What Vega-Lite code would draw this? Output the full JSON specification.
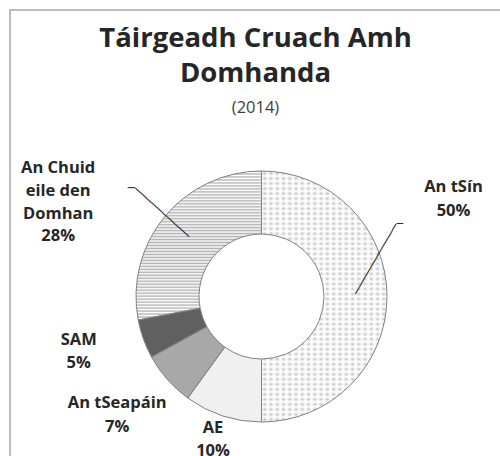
{
  "$schema": "https://vega.github.io/schema/vega-lite/v6.json",
  "width": 503,
  "height": 573,
  "autosize": {"type": "none"},
  "padding": {"left": 10, "top": 10, "right": -13, "bottom": -127},
  "background": "white",
  "config": {"view": {"stroke": null}},
  "title": {
    "text": ["Táirgeadh Cruach Amh", "Domhanda"],
    "subtitle": "(2014)",
    "font": "Open Sans",
    "fontSize": 27.5,
    "fontWeight": "bold",
    "color": "#262626",
    "lineHeight": 35,
    "subtitleFont": "Open Sans",
    "subtitleFontSize": 16.5,
    "subtitleColor": "#404040",
    "subtitlePadding": 12.5,
    "anchor": "middle",
    "dx": -6,
    "offset": -107.5
  },
  "data": {
    "values": [
      {"country": "An tSín", "value": 50, "rank": 1},
      {"country": "AE", "value": 10, "rank": 2},
      {"country": "An tSeapáin", "value": 7, "rank": 3},
      {"country": "SAM", "value": 5, "rank": 4},
      {"country": "An Chuid eile den Domhan", "value": 28, "rank": 5}
    ]
  },
  "transform": [
    {"calculate": "datum.country === 'An Chuid eile den Domhan' ? 'An Chuid\\neile den\\nDomhan\\n' + datum.value + '%' : datum.country + '\\n' + datum.value + '%'", "as": "label"}
  ],
  "layer": [
    {
      "data": {"values": [{"frame": 1}]},
      "mark": {"type": "rect", "fill": "white", "fillOpacity": 0, "stroke": "#a6a6a6", "strokeWidth": 1.5},
      "encoding": {}
    },
    {
      "mark": {"type": "arc", "outerRadius": 125.5, "innerRadius": 62.5, "strokeWidth": 0},
      "encoding": {
        "theta": {"field": "value", "type": "quantitative", "stack": true},
        "order": {"field": "rank", "type": "quantitative", "sort": "ascending"},
        "fill": {
          "condition": [
            {"test": "datum.country === 'An tSín'", "value": {"gradient": "linear", "x1": 0, "y1": 0, "x2": 1, "y2": 0, "stops": [
              {"offset": 0, "color": "#ffffff"}, {"offset": 0.025, "color": "#c0c0c0"}, {"offset": 0.05, "color": "#ffffff"}, {"offset": 0.075, "color": "#c0c0c0"},
              {"offset": 0.1, "color": "#ffffff"}, {"offset": 0.125, "color": "#c0c0c0"}, {"offset": 0.15, "color": "#ffffff"}, {"offset": 0.175, "color": "#c0c0c0"},
              {"offset": 0.2, "color": "#ffffff"}, {"offset": 0.225, "color": "#c0c0c0"}, {"offset": 0.25, "color": "#ffffff"}, {"offset": 0.275, "color": "#c0c0c0"},
              {"offset": 0.3, "color": "#ffffff"}, {"offset": 0.325, "color": "#c0c0c0"}, {"offset": 0.35, "color": "#ffffff"}, {"offset": 0.375, "color": "#c0c0c0"},
              {"offset": 0.4, "color": "#ffffff"}, {"offset": 0.425, "color": "#c0c0c0"}, {"offset": 0.45, "color": "#ffffff"}, {"offset": 0.475, "color": "#c0c0c0"},
              {"offset": 0.5, "color": "#ffffff"}, {"offset": 0.525, "color": "#c0c0c0"}, {"offset": 0.55, "color": "#ffffff"}, {"offset": 0.575, "color": "#c0c0c0"},
              {"offset": 0.6, "color": "#ffffff"}, {"offset": 0.625, "color": "#c0c0c0"}, {"offset": 0.65, "color": "#ffffff"}, {"offset": 0.675, "color": "#c0c0c0"},
              {"offset": 0.7, "color": "#ffffff"}, {"offset": 0.725, "color": "#c0c0c0"}, {"offset": 0.75, "color": "#ffffff"}, {"offset": 0.775, "color": "#c0c0c0"},
              {"offset": 0.8, "color": "#ffffff"}, {"offset": 0.825, "color": "#c0c0c0"}, {"offset": 0.85, "color": "#ffffff"}, {"offset": 0.875, "color": "#c0c0c0"},
              {"offset": 0.9, "color": "#ffffff"}, {"offset": 0.925, "color": "#c0c0c0"}, {"offset": 0.95, "color": "#ffffff"}, {"offset": 0.975, "color": "#c0c0c0"},
              {"offset": 1, "color": "#ffffff"}
            ]}},
            {"test": "datum.country === 'AE'", "value": "#f0f0f0"},
            {"test": "datum.country === 'An tSeapáin'", "value": "#a8a8a8"},
            {"test": "datum.country === 'SAM'", "value": "#606060"}
          ],
          "value": {"gradient": "linear", "x1": 0, "y1": 0, "x2": 0, "y2": 1, "stops": [
            {"offset": 0, "color": "#b3b3b3"}, {"offset": 0.01, "color": "#ffffff"}, {"offset": 0.02, "color": "#b3b3b3"}, {"offset": 0.03, "color": "#ffffff"}, {"offset": 0.04, "color": "#b3b3b3"}, {"offset": 0.05, "color": "#ffffff"}, {"offset": 0.06, "color": "#b3b3b3"}, {"offset": 0.07, "color": "#ffffff"}, {"offset": 0.08, "color": "#b3b3b3"}, {"offset": 0.09, "color": "#ffffff"},
            {"offset": 0.1, "color": "#b3b3b3"}, {"offset": 0.11, "color": "#ffffff"}, {"offset": 0.12, "color": "#b3b3b3"}, {"offset": 0.13, "color": "#ffffff"}, {"offset": 0.14, "color": "#b3b3b3"}, {"offset": 0.15, "color": "#ffffff"}, {"offset": 0.16, "color": "#b3b3b3"}, {"offset": 0.17, "color": "#ffffff"}, {"offset": 0.18, "color": "#b3b3b3"}, {"offset": 0.19, "color": "#ffffff"},
            {"offset": 0.2, "color": "#b3b3b3"}, {"offset": 0.21, "color": "#ffffff"}, {"offset": 0.22, "color": "#b3b3b3"}, {"offset": 0.23, "color": "#ffffff"}, {"offset": 0.24, "color": "#b3b3b3"}, {"offset": 0.25, "color": "#ffffff"}, {"offset": 0.26, "color": "#b3b3b3"}, {"offset": 0.27, "color": "#ffffff"}, {"offset": 0.28, "color": "#b3b3b3"}, {"offset": 0.29, "color": "#ffffff"},
            {"offset": 0.3, "color": "#b3b3b3"}, {"offset": 0.31, "color": "#ffffff"}, {"offset": 0.32, "color": "#b3b3b3"}, {"offset": 0.33, "color": "#ffffff"}, {"offset": 0.34, "color": "#b3b3b3"}, {"offset": 0.35, "color": "#ffffff"}, {"offset": 0.36, "color": "#b3b3b3"}, {"offset": 0.37, "color": "#ffffff"}, {"offset": 0.38, "color": "#b3b3b3"}, {"offset": 0.39, "color": "#ffffff"},
            {"offset": 0.4, "color": "#b3b3b3"}, {"offset": 0.41, "color": "#ffffff"}, {"offset": 0.42, "color": "#b3b3b3"}, {"offset": 0.43, "color": "#ffffff"}, {"offset": 0.44, "color": "#b3b3b3"}, {"offset": 0.45, "color": "#ffffff"}, {"offset": 0.46, "color": "#b3b3b3"}, {"offset": 0.47, "color": "#ffffff"}, {"offset": 0.48, "color": "#b3b3b3"}, {"offset": 0.49, "color": "#ffffff"},
            {"offset": 0.5, "color": "#b3b3b3"}, {"offset": 0.51, "color": "#ffffff"}, {"offset": 0.52, "color": "#b3b3b3"}, {"offset": 0.53, "color": "#ffffff"}, {"offset": 0.54, "color": "#b3b3b3"}, {"offset": 0.55, "color": "#ffffff"}, {"offset": 0.56, "color": "#b3b3b3"}, {"offset": 0.57, "color": "#ffffff"}, {"offset": 0.58, "color": "#b3b3b3"}, {"offset": 0.59, "color": "#ffffff"},
            {"offset": 0.6, "color": "#b3b3b3"}, {"offset": 0.61, "color": "#ffffff"}, {"offset": 0.62, "color": "#b3b3b3"}, {"offset": 0.63, "color": "#ffffff"}, {"offset": 0.64, "color": "#b3b3b3"}, {"offset": 0.65, "color": "#ffffff"}, {"offset": 0.66, "color": "#b3b3b3"}, {"offset": 0.67, "color": "#ffffff"}, {"offset": 0.68, "color": "#b3b3b3"}, {"offset": 0.69, "color": "#ffffff"},
            {"offset": 0.7, "color": "#b3b3b3"}, {"offset": 0.71, "color": "#ffffff"}, {"offset": 0.72, "color": "#b3b3b3"}, {"offset": 0.73, "color": "#ffffff"}, {"offset": 0.74, "color": "#b3b3b3"}, {"offset": 0.75, "color": "#ffffff"}, {"offset": 0.76, "color": "#b3b3b3"}, {"offset": 0.77, "color": "#ffffff"}, {"offset": 0.78, "color": "#b3b3b3"}, {"offset": 0.79, "color": "#ffffff"},
            {"offset": 0.8, "color": "#b3b3b3"}, {"offset": 0.81, "color": "#ffffff"}, {"offset": 0.82, "color": "#b3b3b3"}, {"offset": 0.83, "color": "#ffffff"}, {"offset": 0.84, "color": "#b3b3b3"}, {"offset": 0.85, "color": "#ffffff"}, {"offset": 0.86, "color": "#b3b3b3"}, {"offset": 0.87, "color": "#ffffff"}, {"offset": 0.88, "color": "#b3b3b3"}, {"offset": 0.89, "color": "#ffffff"},
            {"offset": 0.9, "color": "#b3b3b3"}, {"offset": 0.91, "color": "#ffffff"}, {"offset": 0.92, "color": "#b3b3b3"}, {"offset": 0.93, "color": "#ffffff"}, {"offset": 0.94, "color": "#b3b3b3"}, {"offset": 0.95, "color": "#ffffff"}, {"offset": 0.96, "color": "#b3b3b3"}, {"offset": 0.97, "color": "#ffffff"}, {"offset": 0.98, "color": "#b3b3b3"}, {"offset": 0.99, "color": "#ffffff"},
            {"offset": 1, "color": "#b3b3b3"}
          ]}
        }
      }
    },
    {
      "mark": {"type": "arc", "outerRadius": 125.5, "innerRadius": 62.5, "stroke": "#808080", "strokeWidth": 1},
      "encoding": {
        "theta": {"field": "value", "type": "quantitative", "stack": true},
        "order": {"field": "rank", "type": "quantitative", "sort": "ascending"},
        "fill": {
          "condition": {"test": "datum.country === 'An tSín'", "value": {"gradient": "linear", "x1": 0, "y1": 0, "x2": 0, "y2": 1, "stops": [
            {"offset": 0, "color": "#ffffff"}, {"offset": 0.01, "color": "rgba(255,255,255,0)"}, {"offset": 0.02, "color": "#ffffff"}, {"offset": 0.03, "color": "rgba(255,255,255,0)"}, {"offset": 0.04, "color": "#ffffff"}, {"offset": 0.05, "color": "rgba(255,255,255,0)"}, {"offset": 0.06, "color": "#ffffff"}, {"offset": 0.07, "color": "rgba(255,255,255,0)"}, {"offset": 0.08, "color": "#ffffff"}, {"offset": 0.09, "color": "rgba(255,255,255,0)"},
            {"offset": 0.1, "color": "#ffffff"}, {"offset": 0.11, "color": "rgba(255,255,255,0)"}, {"offset": 0.12, "color": "#ffffff"}, {"offset": 0.13, "color": "rgba(255,255,255,0)"}, {"offset": 0.14, "color": "#ffffff"}, {"offset": 0.15, "color": "rgba(255,255,255,0)"}, {"offset": 0.16, "color": "#ffffff"}, {"offset": 0.17, "color": "rgba(255,255,255,0)"}, {"offset": 0.18, "color": "#ffffff"}, {"offset": 0.19, "color": "rgba(255,255,255,0)"},
            {"offset": 0.2, "color": "#ffffff"}, {"offset": 0.21, "color": "rgba(255,255,255,0)"}, {"offset": 0.22, "color": "#ffffff"}, {"offset": 0.23, "color": "rgba(255,255,255,0)"}, {"offset": 0.24, "color": "#ffffff"}, {"offset": 0.25, "color": "rgba(255,255,255,0)"}, {"offset": 0.26, "color": "#ffffff"}, {"offset": 0.27, "color": "rgba(255,255,255,0)"}, {"offset": 0.28, "color": "#ffffff"}, {"offset": 0.29, "color": "rgba(255,255,255,0)"},
            {"offset": 0.3, "color": "#ffffff"}, {"offset": 0.31, "color": "rgba(255,255,255,0)"}, {"offset": 0.32, "color": "#ffffff"}, {"offset": 0.33, "color": "rgba(255,255,255,0)"}, {"offset": 0.34, "color": "#ffffff"}, {"offset": 0.35, "color": "rgba(255,255,255,0)"}, {"offset": 0.36, "color": "#ffffff"}, {"offset": 0.37, "color": "rgba(255,255,255,0)"}, {"offset": 0.38, "color": "#ffffff"}, {"offset": 0.39, "color": "rgba(255,255,255,0)"},
            {"offset": 0.4, "color": "#ffffff"}, {"offset": 0.41, "color": "rgba(255,255,255,0)"}, {"offset": 0.42, "color": "#ffffff"}, {"offset": 0.43, "color": "rgba(255,255,255,0)"}, {"offset": 0.44, "color": "#ffffff"}, {"offset": 0.45, "color": "rgba(255,255,255,0)"}, {"offset": 0.46, "color": "#ffffff"}, {"offset": 0.47, "color": "rgba(255,255,255,0)"}, {"offset": 0.48, "color": "#ffffff"}, {"offset": 0.49, "color": "rgba(255,255,255,0)"},
            {"offset": 0.5, "color": "#ffffff"}, {"offset": 0.51, "color": "rgba(255,255,255,0)"}, {"offset": 0.52, "color": "#ffffff"}, {"offset": 0.53, "color": "rgba(255,255,255,0)"}, {"offset": 0.54, "color": "#ffffff"}, {"offset": 0.55, "color": "rgba(255,255,255,0)"}, {"offset": 0.56, "color": "#ffffff"}, {"offset": 0.57, "color": "rgba(255,255,255,0)"}, {"offset": 0.58, "color": "#ffffff"}, {"offset": 0.59, "color": "rgba(255,255,255,0)"},
            {"offset": 0.6, "color": "#ffffff"}, {"offset": 0.61, "color": "rgba(255,255,255,0)"}, {"offset": 0.62, "color": "#ffffff"}, {"offset": 0.63, "color": "rgba(255,255,255,0)"}, {"offset": 0.64, "color": "#ffffff"}, {"offset": 0.65, "color": "rgba(255,255,255,0)"}, {"offset": 0.66, "color": "#ffffff"}, {"offset": 0.67, "color": "rgba(255,255,255,0)"}, {"offset": 0.68, "color": "#ffffff"}, {"offset": 0.69, "color": "rgba(255,255,255,0)"},
            {"offset": 0.7, "color": "#ffffff"}, {"offset": 0.71, "color": "rgba(255,255,255,0)"}, {"offset": 0.72, "color": "#ffffff"}, {"offset": 0.73, "color": "rgba(255,255,255,0)"}, {"offset": 0.74, "color": "#ffffff"}, {"offset": 0.75, "color": "rgba(255,255,255,0)"}, {"offset": 0.76, "color": "#ffffff"}, {"offset": 0.77, "color": "rgba(255,255,255,0)"}, {"offset": 0.78, "color": "#ffffff"}, {"offset": 0.79, "color": "rgba(255,255,255,0)"},
            {"offset": 0.8, "color": "#ffffff"}, {"offset": 0.81, "color": "rgba(255,255,255,0)"}, {"offset": 0.82, "color": "#ffffff"}, {"offset": 0.83, "color": "rgba(255,255,255,0)"}, {"offset": 0.84, "color": "#ffffff"}, {"offset": 0.85, "color": "rgba(255,255,255,0)"}, {"offset": 0.86, "color": "#ffffff"}, {"offset": 0.87, "color": "rgba(255,255,255,0)"}, {"offset": 0.88, "color": "#ffffff"}, {"offset": 0.89, "color": "rgba(255,255,255,0)"},
            {"offset": 0.9, "color": "#ffffff"}, {"offset": 0.91, "color": "rgba(255,255,255,0)"}, {"offset": 0.92, "color": "#ffffff"}, {"offset": 0.93, "color": "rgba(255,255,255,0)"}, {"offset": 0.94, "color": "#ffffff"}, {"offset": 0.95, "color": "rgba(255,255,255,0)"}, {"offset": 0.96, "color": "#ffffff"}, {"offset": 0.97, "color": "rgba(255,255,255,0)"}, {"offset": 0.98, "color": "#ffffff"}, {"offset": 0.99, "color": "rgba(255,255,255,0)"},
            {"offset": 1, "color": "#ffffff"}
          ]}},
          "value": "transparent"
        }
      }
    },
    {
      "mark": {"type": "text", "font": "DejaVu Sans Mono", "fontSize": 12.2, "color": "#262626", "radius": 94, "angle": 300.2, "dx": 2.2, "dy": -1.3, "align": "left", "baseline": "middle"},
      "encoding": {
        "theta": {"field": "value", "type": "quantitative", "stack": true},
        "order": {"field": "rank", "type": "quantitative", "sort": "ascending"},
        "text": {"condition": {"test": "datum.country === 'An tSín'", "value": "───────────"}, "value": ""}
      }
    },
    {
      "mark": {"type": "text", "font": "DejaVu Sans Mono", "fontSize": 11, "color": "#262626", "radius": 135, "dy": -72.5, "align": "left", "baseline": "middle"},
      "encoding": {
        "theta": {"field": "value", "type": "quantitative", "stack": true},
        "order": {"field": "rank", "type": "quantitative", "sort": "ascending"},
        "text": {"condition": {"test": "datum.country === 'An tSín'", "value": "─"}, "value": ""}
      }
    },
    {
      "mark": {"type": "text", "font": "DejaVu Sans Mono", "fontSize": 12, "color": "#262626", "radius": 94, "angle": 222.2, "align": "left", "baseline": "middle"},
      "encoding": {
        "theta": {"field": "value", "type": "quantitative", "stack": true},
        "order": {"field": "rank", "type": "quantitative", "sort": "ascending"},
        "text": {"condition": {"test": "datum.country === 'An Chuid eile den Domhan'", "value": "──────────"}, "value": ""}
      }
    },
    {
      "mark": {"type": "text", "font": "DejaVu Sans Mono", "fontSize": 12, "color": "#262626", "radius": 94, "dx": -54.1, "dy": -48.3, "align": "right", "baseline": "middle"},
      "encoding": {
        "theta": {"field": "value", "type": "quantitative", "stack": true},
        "order": {"field": "rank", "type": "quantitative", "sort": "ascending"},
        "text": {"condition": {"test": "datum.country === 'An Chuid eile den Domhan'", "value": "─"}, "value": ""}
      }
    },
    {
      "mark": {"type": "text", "font": "Open Sans", "fontWeight": "bold", "fontSize": 16.5, "lineHeight": 23.5, "lineBreak": "\n", "color": "#262626", "radius": 192, "dy": -109.5, "align": "center", "baseline": "middle"},
      "encoding": {
        "theta": {"field": "value", "type": "quantitative", "stack": true},
        "order": {"field": "rank", "type": "quantitative", "sort": "ascending"},
        "text": {"condition": {"test": "datum.country === 'An tSín'", "field": "label", "type": "nominal"}, "value": ""}
      }
    },
    {
      "mark": {"type": "text", "font": "Open Sans", "fontWeight": "bold", "fontSize": 16.5, "lineHeight": 23.5, "lineBreak": "\n", "color": "#262626", "radius": 150.5, "dx": -2, "dy": -12, "align": "center", "baseline": "middle"},
      "encoding": {
        "theta": {"field": "value", "type": "quantitative", "stack": true},
        "order": {"field": "rank", "type": "quantitative", "sort": "ascending"},
        "text": {"condition": {"test": "datum.country === 'AE'", "field": "label", "type": "nominal"}, "value": ""}
      }
    },
    {
      "mark": {"type": "text", "font": "Open Sans", "fontWeight": "bold", "fontSize": 16.5, "lineHeight": 23.5, "lineBreak": "\n", "color": "#262626", "radius": 187, "dx": -4, "dy": -17, "align": "center", "baseline": "middle"},
      "encoding": {
        "theta": {"field": "value", "type": "quantitative", "stack": true},
        "order": {"field": "rank", "type": "quantitative", "sort": "ascending"},
        "text": {"condition": {"test": "datum.country === 'An tSeapáin'", "field": "label", "type": "nominal"}, "value": ""}
      }
    },
    {
      "mark": {"type": "text", "font": "Open Sans", "fontWeight": "bold", "fontSize": 16.5, "lineHeight": 23.5, "lineBreak": "\n", "color": "#262626", "radius": 190, "dx": -4, "dy": -21, "align": "center", "baseline": "middle"},
      "encoding": {
        "theta": {"field": "value", "type": "quantitative", "stack": true},
        "order": {"field": "rank", "type": "quantitative", "sort": "ascending"},
        "text": {"condition": {"test": "datum.country === 'SAM'", "field": "label", "type": "nominal"}, "value": ""}
      }
    },
    {
      "mark": {"type": "text", "font": "Open Sans", "fontWeight": "bold", "fontSize": 16.5, "lineHeight": 22.8, "lineBreak": "\n", "color": "#262626", "radius": 225, "dx": -30, "dy": 15, "align": "center", "baseline": "middle"},
      "encoding": {
        "theta": {"field": "value", "type": "quantitative", "stack": true},
        "order": {"field": "rank", "type": "quantitative", "sort": "ascending"},
        "text": {"condition": {"test": "datum.country === 'An Chuid eile den Domhan'", "field": "label", "type": "nominal"}, "value": ""}
      }
    }
  ]
}
